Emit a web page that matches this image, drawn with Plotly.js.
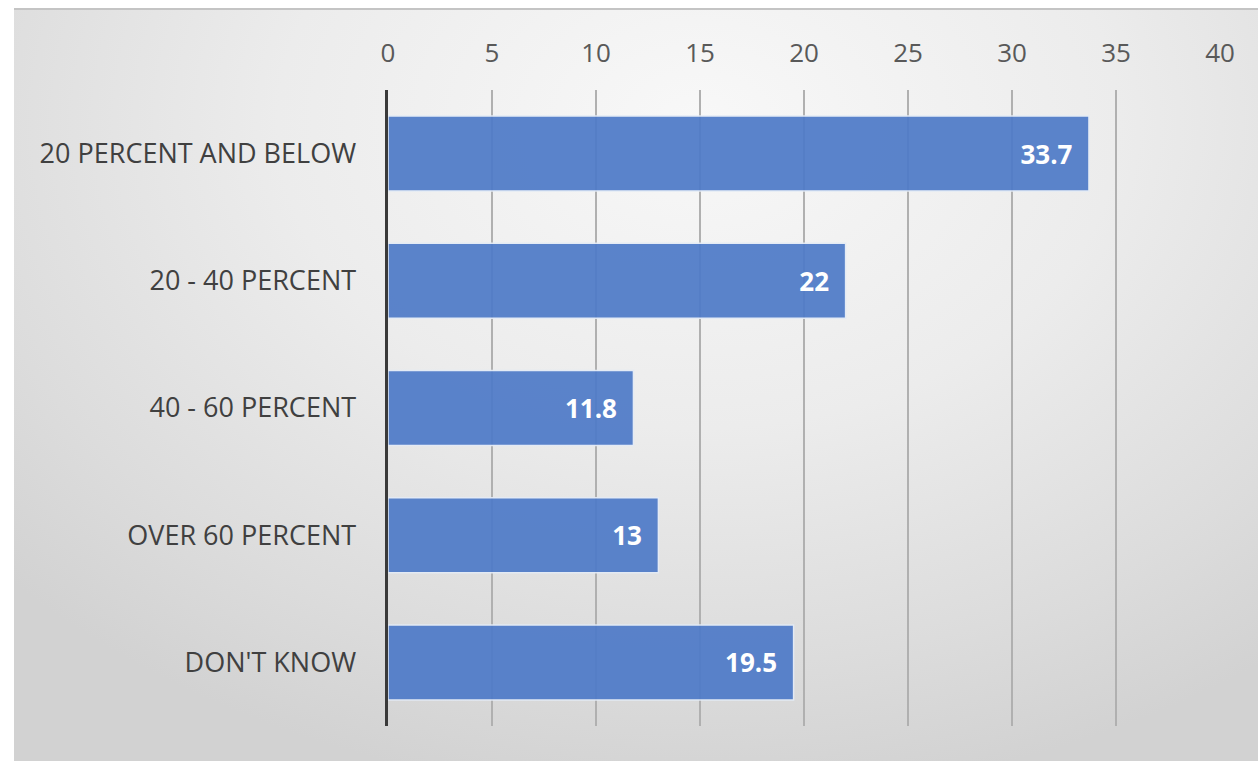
<!DOCTYPE html>
<html>
<head>
<meta charset="utf-8">
<script src="https://cdn.plot.ly/plotly-3.0.1.min.js"></script>
<style>
html,body{margin:0;padding:0;width:1258px;height:761px;background:#ffffff;overflow:hidden;}
#frame{position:absolute;left:14px;top:8px;width:1244px;height:753px;border-top:2px solid #c4c4c4;
background:radial-gradient(ellipse 75% 90% at 55% 15%, #f8f8f8 0%, #ececec 45%, #dcdcdc 80%, #d2d2d2 100%);}
#chart{position:absolute;left:0;top:0;width:1258px;height:761px;}
</style>
</head>
<body>
<div id="frame"></div>
<div id="chart"></div>
<script>
const categories = ["20 PERCENT AND BELOW", "20 - 40 PERCENT", "40 - 60 PERCENT", "OVER 60 PERCENT", "DON'T KNOW"];
const values = [33.7, 22, 11.8, 13, 19.5];
const tickValues = [0, 5, 10, 15, 20, 25, 30, 35, 40];

const trace = {
  type: 'bar',
  orientation: 'h',
  y: categories,
  x: values,
  texttemplate: '%{x}\u00a0\u00a0',
  textposition: 'inside',
  insidetextanchor: 'end',
  textangle: 0,
  textfont: {family: 'Open Sans, sans-serif', size: 26, color: '#ffffff', weight: 'bold'},
  marker: {color: '#4f7bc8', opacity: 0.93, line: {color: '#e4ebf6', width: 1.5}},
  hoverinfo: 'none',
  cliponaxis: false
};

const layout = {
  width: 1258, height: 761,
  margin: {l: 388, r: 38, t: 90, b: 35},
  paper_bgcolor: 'rgba(0,0,0,0)',
  plot_bgcolor: 'rgba(0,0,0,0)',
  bargap: 0.41,
  showlegend: false,
  xaxis: {
    side: 'top',
    range: [0, 40],
    tickvals: tickValues,
    ticktext: tickValues.map(String),
    showgrid: true,
    gridcolor: '#b0b0b0',
    gridwidth: 2,
    zeroline: false,
    showline: false,
    ticks: '',
    ticklabelstandoff: 22,
    tickfont: {family: 'Open Sans, sans-serif', size: 26, color: '#595959'},
    fixedrange: true
  },
  yaxis: {
    categoryorder: 'array',
    categoryarray: categories,
    autorange: 'reversed',
    showgrid: false,
    zeroline: false,
    showline: true,
    linecolor: '#3a3a3a',
    linewidth: 3.5,
    ticks: '',
    ticklabelstandoff: 23,
    tickfont: {family: 'Open Sans, sans-serif', size: 27, color: '#404040'},
    fixedrange: true
  }
};

Plotly.newPlot('chart', [trace], layout, {displayModeBar: false, staticPlot: true});
</script>
</body>
</html>
